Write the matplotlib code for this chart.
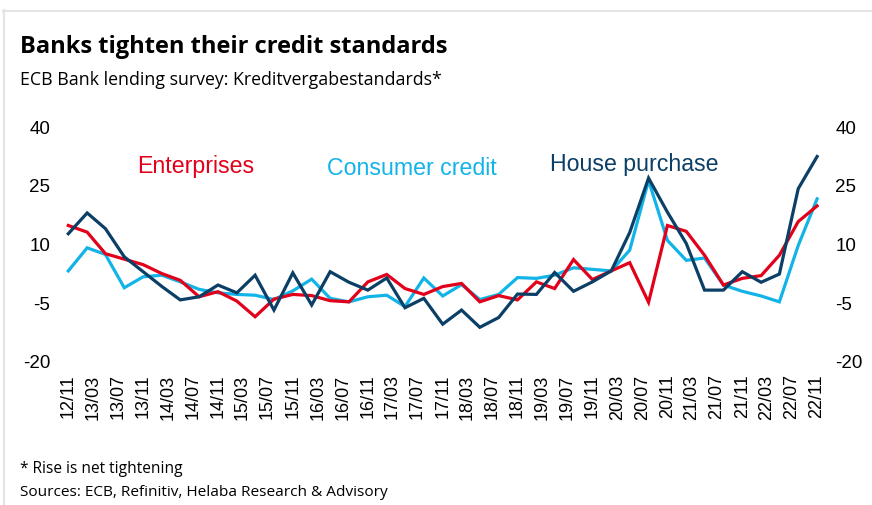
import numpy as np
import pandas as pd
import matplotlib
matplotlib.use("Agg")
import matplotlib.pyplot as plt
from matplotlib.lines import Line2D

# quarterly survey points, 12/11 .. 22/11
dates = pd.date_range("2012-11-01", periods=41, freq="3MS")
tick_dates = pd.date_range("2012-11-01", periods=31, freq="4MS")
tick_labels = [d.strftime("%y/%m") for d in tick_dates]

enterprises = [14.6, 12.9, 7.4, 6.0, 4.6, 2.3, 0.6, -3.6, -2.3, -4.7,
               -8.7, -4.2, -3.0, -3.3, -4.6, -4.9, 0.2, 2.1, -1.5, -3.0,
               -1.0, -0.2, -4.9, -3.3, -4.4, 0.2, -1.5, 5.9, 0.8, 3.0,
               5.1, -5.0, 14.6, 13.1, 7.0, -0.6, 1.1, 1.8, 7.0, 15.6, 19.6]
consumer = [3.0, 8.9, 7.2, -1.3, 1.5, 1.9, 0.2, -1.7, -2.6, -3.0,
            -3.2, -4.3, -2.1, 0.9, -4.0, -4.9, -3.6, -3.2, -6.1, 1.2,
            -3.4, -0.5, -4.3, -3.0, 1.3, 1.1, 1.9, 3.8, 3.4, 3.0,
            8.3, 26.1, 10.8, 5.7, 6.3, -0.6, -2.2, -3.4, -4.9, 9.5, 21.4]
house = [12.5, 17.8, 13.8, 6.6, 2.8, -1.0, -4.4, -3.6, -0.6, -2.6,
         1.9, -7.0, 2.5, -5.7, 2.8, 0.1, -1.9, 1.2, -6.4, -4.0,
         -10.6, -7.0, -11.4, -8.9, -2.9, -3.0, 2.6, -2.2, 0.2, 3.0,
         12.8, 26.7, 18.0, 10.0, -1.9, -1.9, 2.8, 0.1, 2.2, 24.0, 32.2]

yticks = [-20, -5, 10, 25, 40]

RED, LBLUE, DBLUE = "#e2001a", "#12b4e8", "#0b3f66"
W, H = 872, 506
ARIAL = "Liberation Sans"
HUM = "Open Sans"

fig = plt.figure(figsize=(W / 100, H / 100), dpi=100)
# axes placed in pixel terms: x 68..817, y 127..362
ax = fig.add_axes([68.3 / W, 1 - 362 / H, (817.1 - 68.3) / W, 235 / H])
ax.plot(dates, consumer, color=LBLUE, lw=2.3, clip_on=False, solid_joinstyle="miter")
ax.plot(dates, enterprises, color=RED, lw=2.3, clip_on=False, solid_joinstyle="miter")
ax.plot(dates, house, color=DBLUE, lw=2.3, clip_on=False, solid_joinstyle="miter")
ax.set_xlim(dates[0], dates[-1])
ax.set_ylim(-20, 40)

ax.set_xticks(tick_dates)
ax.set_xticklabels(tick_labels, rotation=90, fontsize=13, family=ARIAL)
ax.set_yticks(yticks)
ax.set_yticklabels([str(v) for v in yticks], fontsize=13.5, family=ARIAL)
ax.tick_params(axis="x", length=0, pad=9)
ax.tick_params(axis="y", length=0, pad=13, labelright=True, right=False)
for lab in ax.get_yticklabels():
    lab.set_family(ARIAL)
for s in ax.spines.values():
    s.set_visible(False)

ax.text(dates[0] + pd.Timedelta(days=335), 29.8, "Enterprises", color=RED, fontsize=16.7,
        family=ARIAL, va="center", ha="left")
ax.text(dates[0] + pd.Timedelta(days=1260), 29.3, "Consumer credit", color=LBLUE, fontsize=16.7,
        family=ARIAL, va="center", ha="left")
ax.text(dates[0] + pd.Timedelta(days=2350), 30.3, "House purchase", color=DBLUE, fontsize=16.7,
        family=ARIAL, va="center", ha="left")

fig.text(20 / W, 1 - 47 / H, "Banks tighten their credit standards", fontsize=17,
         weight="bold", family=HUM, va="center", ha="left")
fig.text(20 / W, 1 - 80 / H, "ECB Bank lending survey: Kreditvergabestandards*", fontsize=12.8,
         family=HUM, va="center", ha="left")
fig.text(20 / W, 1 - 469 / H, "* Rise is net tightening", fontsize=11.2,
         family=HUM, va="center", ha="left")
fig.text(20 / W, 1 - 493 / H, "Sources: ECB, Refinitiv, Helaba Research & Advisory", fontsize=11.1,
         family=HUM, va="center", ha="left")

# light grey frame at top and left
fig.add_artist(Line2D([3 / W, 1], [1 - 11.5 / H, 1 - 11.5 / H], color="#e4e4e4", lw=1.6,
                      transform=fig.transFigure))
fig.add_artist(Line2D([3.5 / W, 3.5 / W], [0, 1 - 11 / H], color="#e4e4e4", lw=1.6,
                      transform=fig.transFigure))

fig.savefig("out.png", dpi=100)
